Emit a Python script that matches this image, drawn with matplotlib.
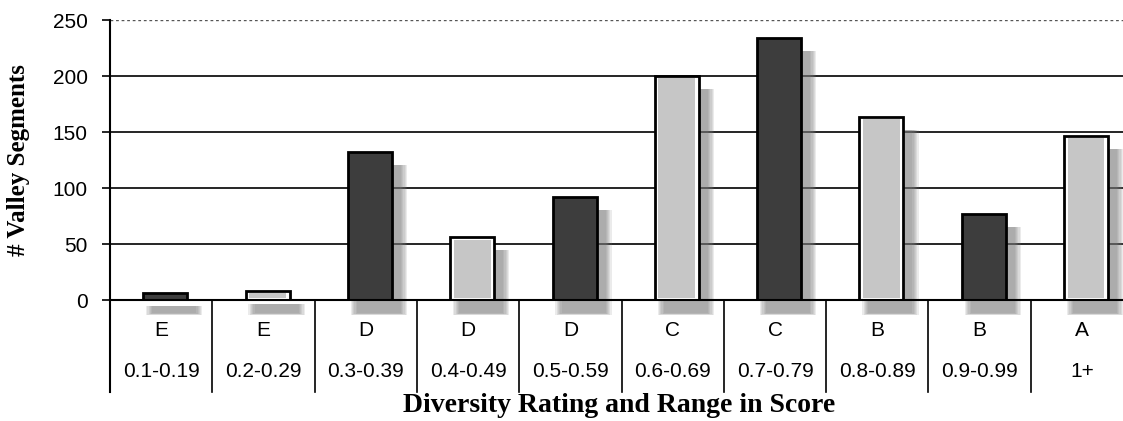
import matplotlib.pyplot as plt
from matplotlib.patches import Rectangle
from matplotlib.transforms import ScaledTranslation

ratings = ["E", "E", "D", "D", "D", "C", "C", "B", "B", "A"]
ranges = ["0.1-0.19", "0.2-0.29", "0.3-0.39", "0.4-0.49", "0.5-0.59",
          "0.6-0.69", "0.7-0.79", "0.8-0.89", "0.9-0.99", "1+"]
segments = [6, 8, 132, 56, 92, 200, 234, 164, 77, 147]
dark = [True, False, True, False, True, False, True, False, True, False]

plt.rcParams["font.family"] = ["Liberation Sans", "DejaVu Sans"]

fig = plt.figure(figsize=(11.23, 4.21), dpi=100)
ax = fig.add_axes([0.098, 0.287, 0.911, 0.665])

ax.set_xlim(0, 10)
ax.set_ylim(0, 250)

# gridlines
for g in [50, 100, 150, 200]:
    ax.axhline(g, color="black", lw=1.2, zorder=1)
ax.axhline(250, color="#555555", lw=1.0, ls=(0, (2, 2)), zorder=1)

width = 0.43
off = 0.04
shift = ScaledTranslation(9 / 100, -13 / 100, fig.dpi_scale_trans)
for i, v in enumerate(segments):
    x0 = i + 0.5 + off - width / 2
    # soft shadow, offset to the lower right
    for k in range(6):
        grow = (5 - k) * 0.012
        sh = Rectangle((x0 - grow, -grow * 30), width + 2 * grow, v + grow * 30,
                       facecolor="#7c7c7c", edgecolor="none", alpha=0.15,
                       transform=ax.transData + shift, clip_on=False, zorder=2)
        ax.add_patch(sh)
    if dark[i]:
        ax.add_patch(Rectangle((x0, 0), width, v, facecolor="#3d3d3d",
                               edgecolor="black", lw=2, zorder=3))
    else:
        ax.add_patch(Rectangle((x0, 0), width, v, facecolor="white",
                               edgecolor="black", lw=2, zorder=3))
        ax.add_patch(Rectangle((x0 + 0.035, 2), width - 0.07, max(v - 4, 0),
                               facecolor="#c6c6c6", edgecolor="none", zorder=4))

# table under the axis
for b in range(1, 10):
    ax.plot([b, b], [0, -82], color="black", lw=1.2, clip_on=False, zorder=5)
for i in range(10):
    ax.text(i + 0.5, -27, ratings[i], ha="center", va="center", fontsize=15,
            clip_on=False, zorder=6)
    ax.text(i + 0.5, -64, ranges[i], ha="center", va="center", fontsize=15,
            clip_on=False, zorder=6)

ax.spines["top"].set_visible(False)
ax.spines["right"].set_visible(False)
ax.spines["left"].set_bounds(-82, 250)
ax.spines["left"].set_linewidth(1.5)
ax.spines["bottom"].set_linewidth(1.5)
ax.spines["bottom"].set_zorder(6)

ax.set_xticks([])
ax.set_yticks([0, 50, 100, 150, 200, 250])
ax.tick_params(axis="y", length=6, width=1.2, pad=10, labelsize=15)

ax.set_ylabel("# Valley Segments", family=["Liberation Serif", "DejaVu Serif"],
              fontweight="bold", fontsize=18, labelpad=16)
fig.text(0.551, 0.036, "Diversity Rating and Range in Score",
         family=["Liberation Serif", "DejaVu Serif"], fontweight="bold",
         fontsize=20, ha="center", va="center")

fig.savefig("out.png", dpi=100)
